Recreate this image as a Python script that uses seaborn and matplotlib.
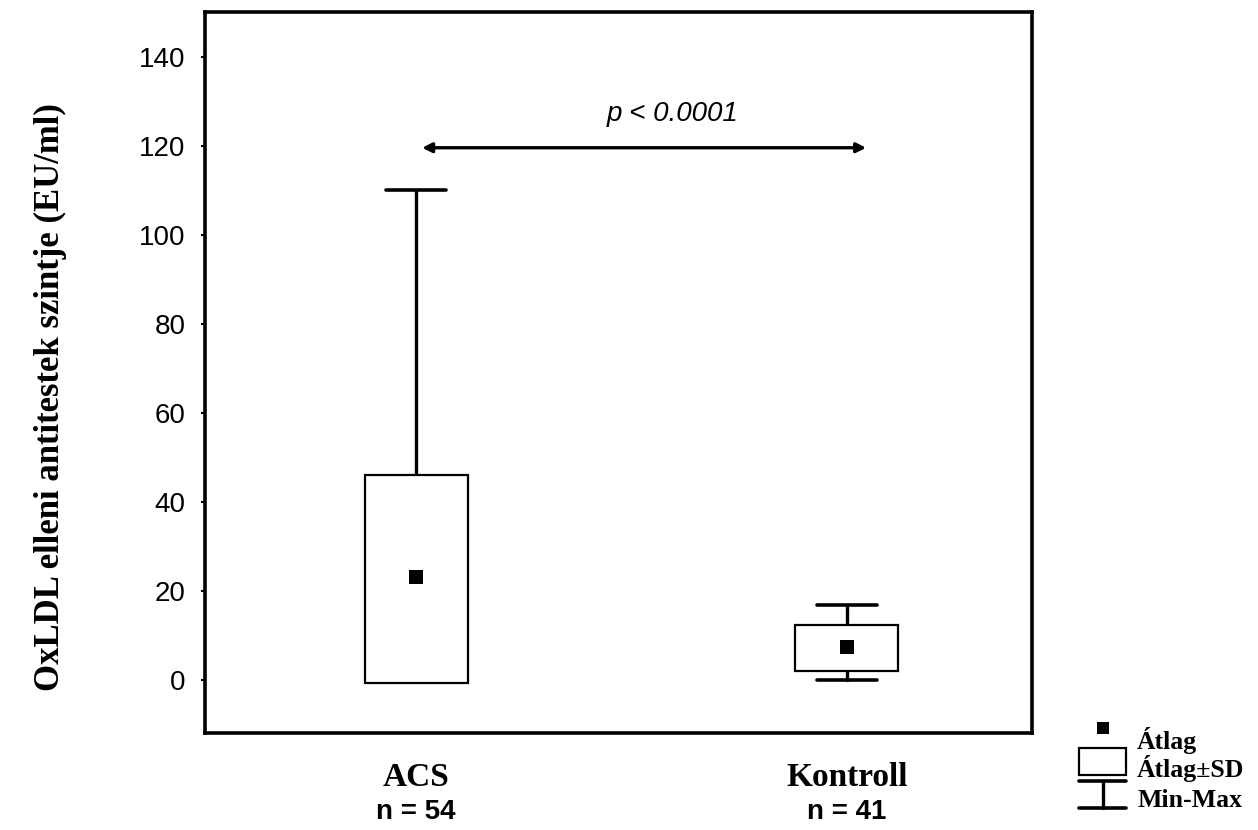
import numpy as np
import pandas as pd
import matplotlib
matplotlib.use("Agg")
import matplotlib.pyplot as plt
import matplotlib.transforms as mtransforms
from matplotlib.patches import Rectangle
from matplotlib.lines import Line2D
import seaborn as sns

# ---- data ----
categories = ["ACS", "Kontroll"]
n_labels = ["n = 54", "n = 41"]
means = [23.0, 7.4]
sd_low = [-0.7, 2.0]
sd_high = [46.0, 12.3]
max_vals = [110.0, 16.8]
min_vals = [np.nan, 0.0]
y_ticks = [0, 20, 40, 60, 80, 100, 120, 140]
p_text = "p < 0.0001"
p_level = 119.5
y_label = "OxLDL elleni antitestek szintje (EU/ml)"
legend_labels = ["Átlag", "Átlag±SD", "Min-Max"]

sns.set_theme(style="white")
plt.rcParams["font.family"] = ["Liberation Sans", "DejaVu Sans"]
plt.rcParams["text.color"] = "black"

W, H = 1258, 830
fig = plt.figure(figsize=(W / 100, H / 100), dpi=100)
ax = fig.add_axes([205 / W, 1 - 733 / H, (1032 - 205) / W, (733 - 12) / H])

pos = np.arange(len(categories))
df = pd.DataFrame({"pos": pos, "mean": means})

box_w = 0.239
cap_w = 0.139

# SD boxes
for x, lo, hi in zip(pos, sd_low, sd_high):
    ax.add_patch(Rectangle((x - box_w / 2, lo), box_w, hi - lo, facecolor="white",
                           edgecolor="black", linewidth=1.6, zorder=2))
# whiskers (min-max)
for x, lo, hi, mn, mx in zip(pos, sd_low, sd_high, min_vals, max_vals):
    if not np.isnan(mx):
        ax.plot([x, x], [hi, mx], color="black", lw=2.4, zorder=1)
        ax.plot([x - cap_w / 2, x + cap_w / 2], [mx, mx], color="black", lw=2.6, zorder=1)
    if not np.isnan(mn):
        ax.plot([x, x], [mn, lo], color="black", lw=2.4, zorder=1)
        ax.plot([x - cap_w / 2, x + cap_w / 2], [mn, mn], color="black", lw=2.6, zorder=1)

# means
sns.scatterplot(data=df, x="pos", y="mean", marker="s", s=110, color="black",
                edgecolor="black", linewidth=0, ax=ax, zorder=3, legend=False)

ax.set_xlim(-0.49, 1.43)
ax.set_ylim(-12, 150)
ax.set_yticks(y_ticks)
ax.set_yticklabels([str(t) for t in y_ticks], fontsize=20, color="black")
ax.set_xticks([])
ax.set_xlabel("")
ax.set_ylabel("")
ax.tick_params(axis="y", direction="out", length=3, width=1.5, color="black", pad=11,
               left=True, labelcolor="black")
for s in ax.spines.values():
    s.set_visible(True)
    s.set_color("black")
    s.set_linewidth(2.6)

# category labels
trans = mtransforms.blended_transform_factory(ax.transData, fig.transFigure)
for x, c, n in zip(pos, categories, n_labels):
    ax.text(x, 1 - 777 / H, c, transform=trans, ha="center", va="center", color="black",
            fontsize=24, fontweight="bold", family=["Liberation Serif", "DejaVu Serif"])
    ax.text(x, 1 - 812 / H, n, transform=trans, ha="center", va="center", color="black",
            fontsize=20, fontweight="bold")

# y label
fig.text(50 / W, 1 - 397 / H, y_label, rotation=90, ha="center", va="center", color="black",
         fontsize=25, fontweight="bold", family=["Liberation Serif", "DejaVu Serif"])

# significance arrow
ax.annotate("", xy=(1.045, p_level), xytext=(0.014, p_level),
            arrowprops=dict(arrowstyle="<|-|>", color="black", lw=2.4,
                            mutation_scale=14, shrinkA=0, shrinkB=0))
ax.text(0.596, p_level + 7.6, p_text, ha="center", va="center", color="black",
        fontsize=20, style="italic")

# legend (figure coords)
def fy(py):
    return 1 - py / H

def fx(px):
    return px / W

fig.add_artist(Rectangle((fx(1097), fy(734)), 12 / W, 12 / H, transform=fig.transFigure,
                         facecolor="black", edgecolor="none"))
fig.add_artist(Rectangle((fx(1079), fy(775)), 47 / W, 27 / H, transform=fig.transFigure,
                         facecolor="white", edgecolor="black", lw=1.6))
fig.add_artist(Line2D([fx(1079), fx(1126)], [fy(781), fy(781)], transform=fig.transFigure,
                      color="black", lw=2.6))
fig.add_artist(Line2D([fx(1103), fx(1103)], [fy(781), fy(808)], transform=fig.transFigure,
                      color="black", lw=2.4))
fig.add_artist(Line2D([fx(1079), fx(1126)], [fy(808), fy(808)], transform=fig.transFigure,
                      color="black", lw=2.6))
for lab, py in zip(legend_labels, [740, 768, 800]):
    fig.text(fx(1137), fy(py), lab, ha="left", va="center", fontsize=18.5, fontweight="bold",
             color="black", family=["Liberation Serif", "DejaVu Serif"])

fig.savefig("out.png", dpi=100, facecolor="white")
